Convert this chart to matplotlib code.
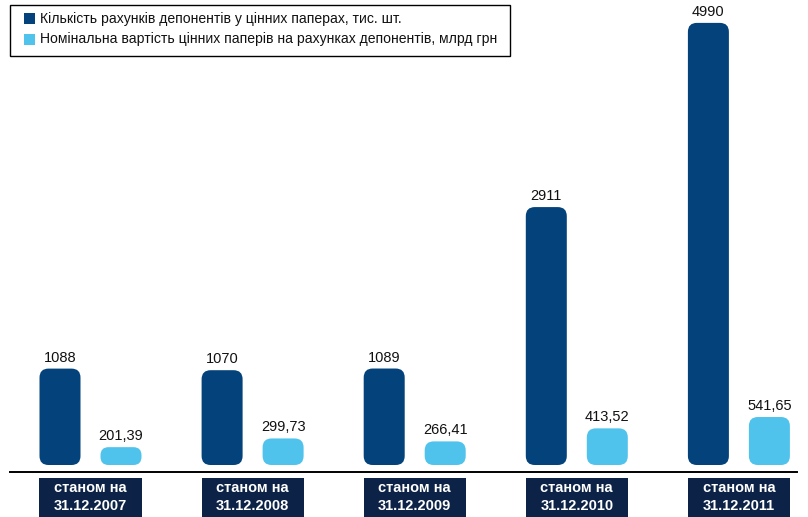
import numpy as np
import matplotlib
matplotlib.use("Agg")
import matplotlib.pyplot as plt
from matplotlib.patches import FancyBboxPatch, Rectangle

plt.rcParams['font.family'] = ['Liberation Sans', 'DejaVu Sans']

dates = ['31.12.2007', '31.12.2008', '31.12.2009', '31.12.2010', '31.12.2011']
accounts = [1088, 1070, 1089, 2911, 4990]            # тис. шт.
nominal = [201.39, 299.73, 266.41, 413.52, 541.65]    # млрд грн
series_names = ['Кількість рахунків депонентів у цінних паперах, тис. шт.',
                'Номінальна вартість цінних паперів на рахунках депонентів, млрд грн']

DARK = '#03427a'
LIGHT = '#4fc3ec'
NAVY = '#0c2246'

W, H = 808, 517
fig = plt.figure(figsize=(W / 100, H / 100), dpi=100)
ax = fig.add_axes([0, 0, 1, 1])
ax.set_axis_off()

# pixel geometry -> data limits
px_per_x = 162.1          # one group step in pixels
px_per_y = 0.0886         # pixels per value unit
x0_px, y0_px = 90.5, 52   # first group centre, bar base (from bottom)
ax.set_xlim(-x0_px / px_per_x, (W - x0_px) / px_per_x)
ax.set_ylim(-y0_px / px_per_y, (H - y0_px) / px_per_y)

bar_w = 41 / px_per_x
offset = 30.5 / px_per_x
aspect = (1 / px_per_y) / (1 / px_per_x)


def rounded_bar(xc, h, color):
    h_px = h * px_per_y
    r_px = min(9, h_px / 2.2)
    patch = FancyBboxPatch((xc - bar_w / 2, 0), bar_w, h,
                           boxstyle=f"round,pad=0,rounding_size={r_px / px_per_x}",
                           mutation_aspect=aspect,
                           fc=color, ec='none')
    ax.add_patch(patch)


x = np.arange(len(dates))
for i in x:
    rounded_bar(i - offset, accounts[i], DARK)
    rounded_bar(i + offset, nominal[i], LIGHT)
    ax.text(i - offset, accounts[i] + 4 / px_per_y, f"{accounts[i]}",
            ha='center', va='bottom', fontsize=10.5, color='#111111')
    ax.text(i + offset, nominal[i] + 4 / px_per_y,
            f"{nominal[i]:.2f}".replace('.', ','),
            ha='center', va='bottom', fontsize=10.5, color='#111111')

    # category label plate
    left = i - offset - bar_w / 2
    right = i + offset + bar_w / 2
    plate_top = -(y0_px - 39) / px_per_y
    ax.add_patch(Rectangle((left, -y0_px / px_per_y), right - left,
                           plate_top + y0_px / px_per_y,
                           fc=NAVY, ec='none', clip_on=False))
    ax.text(i, -(y0_px - 29) / px_per_y, 'станом на', ha='center', va='center',
            color='white', fontsize=10.5, fontweight='bold')
    ax.text(i, -(y0_px - 11) / px_per_y, dates[i], ha='center', va='center',
            color='white', fontsize=10.5, fontweight='bold')

# baseline
ax.axhline(-7 / px_per_y, xmin=10 / W, xmax=797 / W, color='black', lw=1.4)


# legend box, laid out in figure pixels (origin top-left)
def fx(px):
    return px / W


def fy(py):
    return 1 - py / H


fig.patches.append(Rectangle((fx(10), fy(56)), fx(500), 51 / H, transform=fig.transFigure,
                             fc='white', ec='black', lw=1.0))
for k, (name, color) in enumerate(zip(series_names, [DARK, LIGHT])):
    yc = 18.5 + 21 * k
    fig.patches.append(Rectangle((fx(24), fy(yc + 5.5)), fx(11), 11 / H,
                                 transform=fig.transFigure, fc=color, ec='none'))
    fig.text(fx(40), fy(yc), name, ha='left', va='center', fontsize=10.1, color='#111111')

fig.savefig('out.png', dpi=100)
